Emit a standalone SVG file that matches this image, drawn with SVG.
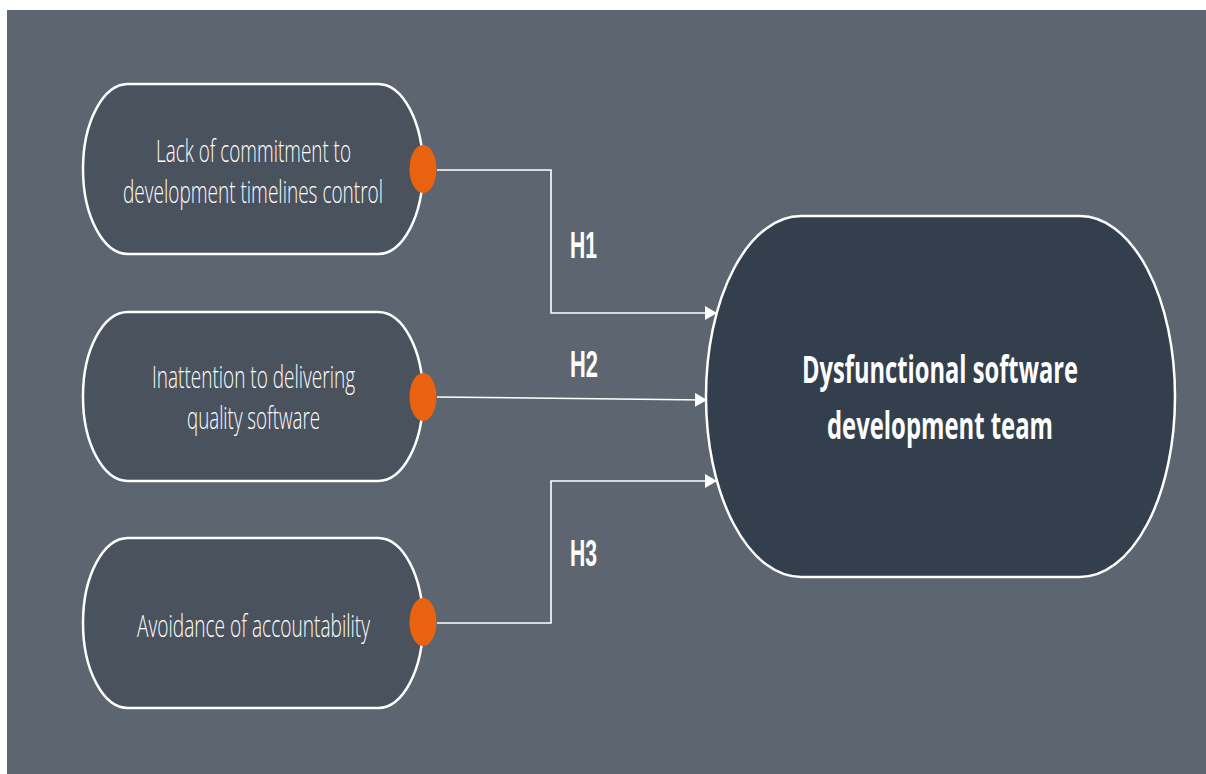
<svg xmlns="http://www.w3.org/2000/svg" width="1206" height="774" viewBox="0 0 1206 774">
<defs>
<style>
.node{fill:#4a525e;stroke:#ffffff;stroke-width:2.5}
.main{fill:#333f4d;stroke:#ffffff;stroke-width:2.5}
.dot{fill:#e8620f}
.t{font-family:"Open Sans","Liberation Sans",sans-serif;font-weight:300;font-size:31px;fill:#ffffff}
.tb{font-family:"Open Sans","Liberation Sans",sans-serif;font-weight:700;font-size:38px;fill:#ffffff}
.h{font-family:"Liberation Sans","Open Sans",sans-serif;font-weight:700;font-size:36px;fill:#ffffff}
.conn{fill:none;stroke:#ffffff;stroke-width:1.6}
</style>
<marker id="arr" markerWidth="12" markerHeight="14" refX="11" refY="7" orient="auto" markerUnits="userSpaceOnUse">
<path d="M0,0 L12,7 L0,14 Z" fill="#ffffff"/>
</marker>
</defs>
<rect x="0" y="0" width="1206" height="774" fill="#ffffff"/>
<rect x="7" y="10" width="1199" height="764" fill="#5d6670"/>

<g id="connectors">
<path class="conn" d="M437,170 H551 V313 H716" marker-end="url(#arr)"/>
<path class="conn" d="M437,397 L706,400" marker-end="url(#arr)"/>
<path class="conn" d="M437,623 H551 V481 H716" marker-end="url(#arr)"/>
<text class="h" x="570" y="258" textLength="27" lengthAdjust="spacingAndGlyphs">H1</text>
<text class="h" x="570" y="377" textLength="28" lengthAdjust="spacingAndGlyphs">H2</text>
<text class="h" x="570" y="566" textLength="27" lengthAdjust="spacingAndGlyphs">H3</text>
</g>

<g id="node1">
<rect class="node" x="83" y="84" width="340" height="170" rx="45" ry="85"/>
<text class="t" x="156" y="162" textLength="195" lengthAdjust="spacingAndGlyphs">Lack of commitment to</text>
<text class="t" x="123" y="203" textLength="260" lengthAdjust="spacingAndGlyphs">development timelines control</text>
<ellipse class="dot" cx="423" cy="169" rx="13.5" ry="24"/>
</g>

<g id="node2">
<rect class="node" x="83" y="312" width="340" height="169" rx="45" ry="84"/>
<text class="t" x="152" y="388" textLength="203" lengthAdjust="spacingAndGlyphs">Inattention to delivering</text>
<text class="t" x="187" y="429" textLength="133" lengthAdjust="spacingAndGlyphs">quality software</text>
<ellipse class="dot" cx="423" cy="397" rx="13.5" ry="24"/>
</g>

<g id="node3">
<rect class="node" x="83" y="538" width="340" height="170" rx="45" ry="85"/>
<text class="t" x="137" y="637" textLength="233" lengthAdjust="spacingAndGlyphs">Avoidance of accountability</text>
<ellipse class="dot" cx="423" cy="622" rx="13.5" ry="24"/>
</g>

<g id="node4">
<rect class="main" x="706" y="216" width="469" height="361" rx="95" ry="180"/>
<text class="tb" x="802" y="383" textLength="276" lengthAdjust="spacingAndGlyphs">Dysfunctional software</text>
<text class="tb" x="827" y="439" textLength="226" lengthAdjust="spacingAndGlyphs">development team</text>
</g>
</svg>
